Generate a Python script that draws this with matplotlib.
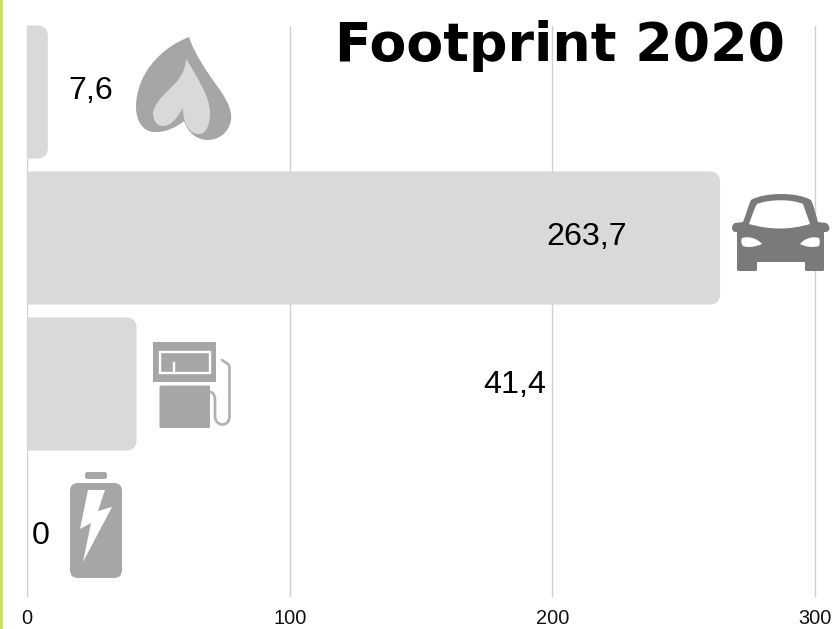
import matplotlib
matplotlib.use("Agg")
import matplotlib.pyplot as plt
from matplotlib.path import Path
from matplotlib.patches import PathPatch, Rectangle, FancyBboxPatch, Polygon

categories = ["Gas", "Car", "Fuel", "Electricity"]
values = [7.6, 263.7, 41.4, 0]
value_labels = ["7,6", "263,7", "41,4", "0"]
ticks = [0, 100, 200, 300]
tick_labels = ["0", "100", "200", "300"]
title = "Footprint 2020"

W, H = 834, 629
X0 = 27.3
SCALE = 2.625
fig = plt.figure(figsize=(W / 100, H / 100), dpi=100, facecolor="white")
ax = fig.add_axes([X0 / W, 1 - 597 / H, (W - X0) / W, (597 - 26) / H])
ax.set_xlim(0, (W - X0) / SCALE)
ax.set_ylim((597 - 26) / 146, 0)
ax.set_axisbelow(True)
ax.grid(axis="x", color="#d0d0d0", lw=1)
ax.set_xticks(ticks)
ax.set_xticklabels(tick_labels, fontsize=14.4, family="Liberation Sans", color="#111111")
ax.tick_params(axis="x", length=0, pad=9)
ax.set_yticks([])
for s in ax.spines.values():
    s.set_visible(False)

# rounded-right horizontal bars, built from the data values
h = 132 / 146
rx, ry = 10 / SCALE, 10 / 146
for i, v in enumerate(values):
    if v <= 0:
        continue
    top, bot = i, i + h
    verts = [(0, top), (v - rx, top), (v, top), (v, top + ry), (v, bot - ry),
             (v, bot), (v - rx, bot), (0, bot), (0, top)]
    codes = [Path.MOVETO, Path.LINETO, Path.CURVE3, Path.CURVE3, Path.LINETO,
             Path.CURVE3, Path.CURVE3, Path.LINETO, Path.CLOSEPOLY]
    ax.add_patch(PathPatch(Path(verts, codes), fc="#d9d9d9", ec="#d9d9d9", lw=0.8, clip_on=False))

# overlay in pixel coordinates for decoration and free-placed labels
ov = fig.add_axes([0, 0, 1, 1], facecolor="none")
ov.set_xlim(0, W)
ov.set_ylim(H, 0)
ov.axis("off")

ov.add_patch(Rectangle((0, 0), 3.2, H, fc="#cfe05c", ec="none"))

label_xy = [(90.5, 91), (586.5, 237), (515, 385), (40.5, 536)]
for t, (x, y) in zip(value_labels, label_xy):
    ov.text(x, y, t, ha="center", va="center", fontsize=23.2, family="Liberation Sans", color="#000000")

ov.text(785, 61, title, ha="right", va="baseline", fontsize=38.7, fontweight="bold",
        family="DejaVu Sans", color="#000000")

M, L, C, Z = Path.MOVETO, Path.LINETO, Path.CURVE4, Path.CLOSEPOLY


def bez(start, segs, color, z=3):
    v, c = [start], [M]
    for s in segs:
        if len(s) == 1:
            v += s
            c += [L]
        else:
            v += s
            c += [C, C, C]
    v.append(start)
    c.append(Z)
    ov.add_patch(PathPatch(Path(v, c), fc=color, ec="none", zorder=z))


GREY = "#a6a6a6"
# flame
bez((189, 37), [
    [(195, 55), (207, 72), (220, 90)],
    [(229, 103), (232, 112), (231, 120)],
    [(229, 133), (218, 140), (208, 140)],
    [(197, 140), (188, 133), (184, 121)],
    [(177, 127), (165, 133), (153, 132)],
    [(143, 131), (136, 121), (136, 107)],
    [(136, 75), (160, 48), (189, 37)],
], GREY)
bez((186, 58), [
    [(195, 75), (210, 95), (210, 113)],
    [(210, 125), (206, 134), (199, 134)],
    [(190, 134), (183, 125), (183, 108)],
    [(178, 116), (172, 126), (163, 126)],
    [(156, 126), (153, 119), (153, 113)],
    [(155, 100), (170, 90), (178, 80)],
    [(184, 72), (186, 65), (186, 58)],
], "#d9d9d9", 4)

# car
CAR = "#7a7a7a"
bez((751, 200), [
    [(765, 192), (797, 192), (811, 200)],
    [(814, 206), (815, 212), (818, 222)],
    [((826, 223))],
    [(830, 225), (831, 231), (826, 232)],
    [((824, 232))],
    [((824, 269))],
    [(824, 271), (823, 271), (822, 271)],
    [((807, 271))],
    [(806, 271), (805, 271), (805, 269)],
    [((805, 262))],
    [((757, 262))],
    [((757, 269))],
    [(757, 271), (756, 271), (755, 271)],
    [((739, 271))],
    [(738, 271), (737, 271), (737, 269)],
    [((737, 232))],
    [((735, 232))],
    [(731, 231), (731, 225), (735, 223)],
    [((743, 222))],
    [(747, 212), (748, 206), (751, 200)],
], CAR)
bez((757, 204), [
    [(770, 199), (792, 199), (803, 204)],
    [(805, 209), (807, 216), (810, 224)],
    [(790, 230), (770, 230), (749, 224)],
    [(752, 216), (754, 209), (757, 204)],
], "white", 4)
bez((742, 238), [
    [(748, 236), (757, 238), (762, 244)],
    [(755, 247), (748, 248), (743, 246)],
    [(741, 244), (741, 240), (742, 238)],
], "white", 4)
bez((819, 238), [
    [(813, 236), (805, 238), (800, 244)],
    [(806, 247), (813, 248), (819, 246)],
    [(820, 244), (820, 240), (819, 238)],
], "white", 4)

# fuel pump
ov.add_patch(Rectangle((153, 342), 63, 40, fc=GREY, ec="none", zorder=3))
ov.add_patch(Rectangle((160, 352), 50, 20.5, fc="none", ec="white", lw=1.7, zorder=4))
ov.plot([174, 174], [363, 372], color="white", lw=1.7, zorder=4)
ov.add_patch(FancyBboxPatch((159.5, 385.5), 50.5, 42.5, boxstyle="round,pad=0,rounding_size=1.5",
                            fc=GREY, ec="none", zorder=3))
hose = Path([(211, 392), (214, 393), (215, 397), (215, 400), (215, 416), (215, 421), (218, 424.5),
             (222.5, 424.5), (227, 424.5), (229.5, 421), (229.5, 416), (229.5, 367), (229.5, 364),
             (226, 363), (222, 360)],
            [M, C, C, C, L, C, C, C, C, C, C, L, C, C, C])
ov.add_patch(PathPatch(hose, fc="none", ec="#b0b0b0", lw=1.9, capstyle="round", zorder=3))

# battery
ov.add_patch(FancyBboxPatch((85, 472), 22, 7, boxstyle="round,pad=0,rounding_size=2.5",
                            fc=GREY, ec="none", zorder=3))
ov.add_patch(FancyBboxPatch((70, 483), 52, 95, boxstyle="round,pad=0,rounding_size=8",
                            fc=GREY, ec="none", zorder=3))
ov.add_patch(Polygon([(88, 490), (105, 490), (98, 511), (112, 507), (83, 562), (91, 523), (80, 529)],
                     closed=True, fc="white", ec="none", zorder=4))

fig.savefig("out.png", dpi=100)
